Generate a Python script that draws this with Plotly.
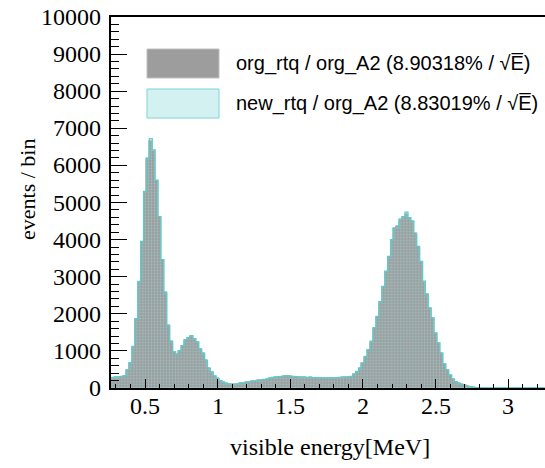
import plotly.graph_objects as go

# ---- data (bin width 0.02 MeV, first bin edge 0.25 MeV) ----
bin_start = 0.25
bin_width = 0.02

org_rtq = [
    280, 280, 290, 300, 310, 330, 485, 670, 1110, 1860,
    2860, 3940, 5280, 6170, 6660, 6400, 5590, 4610, 3450, 2600,
    1700, 1260, 980, 910, 1000, 1130, 1290, 1340, 1400, 1320,
    1250, 1040, 935, 755, 530, 440, 320, 260, 200, 150,
    125, 105, 95, 100, 110, 125, 140, 155, 170, 185,
    195, 205, 215, 225, 240, 260, 280, 295, 300, 310,
    320, 325, 315, 310, 300, 295, 290, 285, 280, 285,
    280, 275, 280, 275, 270, 275, 280, 270, 275, 280,
    285, 290, 300, 305, 375, 440, 530, 665, 845, 1025,
    1250, 1610, 1920, 2325, 2730, 3135, 3540, 3990, 4300, 4360,
    4530, 4600, 4690, 4570, 4510, 4180, 3810, 3400, 2865, 2525,
    2150, 1880, 1475, 1205, 935, 645, 485, 350, 240, 170,
    125, 100, 73, 50, 30, 15, 8, 4, 2, 1,
    0, 0, 0, 0, 0, 0, 0, 0, 0, 0,
    0, 0, 0, 0, 0, 0, 0, 0, 0, 0,
]

new_rtq = [
    280, 285, 290, 300, 315, 335, 490, 680, 1120, 1870,
    2870, 3950, 5300, 6200, 6720, 6420, 5600, 4620, 3460, 2560,
    1680, 1240, 975, 905, 1010, 1140, 1300, 1360, 1410, 1330,
    1240, 1050, 930, 750, 535, 435, 325, 255, 200, 150,
    120, 105, 95, 100, 110, 130, 140, 160, 170, 185,
    200, 205, 220, 230, 240, 265, 285, 295, 305, 315,
    325, 330, 320, 310, 305, 295, 290, 290, 285, 285,
    280, 280, 280, 275, 275, 275, 280, 275, 275, 285,
    285, 295, 300, 310, 380, 445, 535, 670, 850, 1035,
    1260, 1620, 1930, 2330, 2740, 3150, 3550, 4000, 4300, 4330,
    4560, 4620, 4740, 4590, 4500, 4140, 3820, 3410, 2880, 2530,
    2160, 1890, 1480, 1215, 940, 650, 490, 355, 245, 170,
    130, 100, 75, 50, 30, 15, 8, 4, 2, 1,
    0, 0, 0, 0, 0, 0, 0, 0, 0, 0,
    0, 0, 0, 0, 0, 0, 0, 0, 0, 0,
]

label_org = "org_rtq / org_A2 (8.90318% / √E\u0305)"
label_new = "new_rtq / org_A2 (8.83019% / √E\u0305)"

x_ticks = [0.5, 1, 1.5, 2, 2.5, 3]
x_tick_labels = ["0.5", "1", "1.5", "2", "2.5", "3"]
y_ticks = list(range(0, 10001, 1000))
y_tick_labels = [str(v) for v in y_ticks]
x_range = [0.266, 3.253]
y_range = [0, 10000]

# ---- derived bin geometry ----
n = len(org_rtq)
centers = [bin_start + bin_width * (i + 0.5) for i in range(n)]
edges = [bin_start + bin_width * i for i in range(n + 1)]

W, H = 545, 468
L, R, T, B = 111, 0, 17, 80
pw, ph = W - L - R, H - T - B

SERIF = "Liberation Serif"
SANS = "Liberation Sans"


def px(x):
    return (x - L) / pw


def py(y):
    return (H - B - y) / ph


fig = go.Figure()
fig.add_trace(go.Bar(
    x=centers, y=org_rtq, width=bin_width, name=label_org,
    marker=dict(color="#9d9d9d", line=dict(width=0.6, color="#9d9d9d")),
    showlegend=False,
))
fig.add_trace(go.Bar(
    x=centers, y=new_rtq, width=bin_width, name=label_new,
    marker=dict(color="rgba(0,0,0,0)", line=dict(width=0),
                pattern=dict(shape=".", fgcolor="#8fdcdc", bgcolor="rgba(0,0,0,0)",
                             size=3, solidity=0.35)),
    showlegend=False,
))
fig.add_trace(go.Scatter(
    x=edges, y=new_rtq + [new_rtq[-1]], mode="lines",
    line=dict(shape="hv", color="#5fcaca", width=1.3),
    showlegend=False, hoverinfo="skip",
))
# helper trace so the minor-tick overlay axes are drawn
fig.add_trace(go.Scatter(x=[None], y=[None], xaxis="x2", yaxis="y2",
                         showlegend=False, hoverinfo="skip"))

shapes = [
    dict(type="rect", xref="paper", yref="paper",
         x0=px(147), x1=px(219), y0=py(78), y1=py(49),
         fillcolor="#9d9d9d", line=dict(color="#c0c0c0", width=1)),
    dict(type="rect", xref="paper", yref="paper",
         x0=px(147), x1=px(219), y0=py(118), y1=py(89),
         fillcolor="#d4f1f1", line=dict(color="#7fd4d4", width=1)),
]
annotations = [
    dict(text=label_org, x=px(234), y=py(63), xref="paper", yref="paper",
         xanchor="left", yanchor="middle", showarrow=False,
         font=dict(family=SANS, size=20, color="black")),
    dict(text=label_new, x=px(234), y=py(104), xref="paper", yref="paper",
         xanchor="left", yanchor="middle", showarrow=False,
         font=dict(family=SANS, size=20, color="black")),
    dict(text="events / bin", x=px(27), y=py(190), xref="paper", yref="paper",
         xanchor="center", yanchor="middle", textangle=-90, showarrow=False,
         font=dict(family=SERIF, size=22, color="black")),
    dict(text="visible energy[MeV]", x=px(330), y=py(447), xref="paper", yref="paper",
         xanchor="center", yanchor="middle", showarrow=False,
         font=dict(family=SERIF, size=24, color="black")),
]
# tick labels as text annotations tied to the axes
for v, t in zip(x_ticks, x_tick_labels):
    annotations.append(dict(
        text=t, x=v, y=py(406), xref="x", yref="paper",
        xanchor="center", yanchor="middle", showarrow=False,
        font=dict(family=SERIF, size=24, color="black")))
for v, t in zip(y_ticks, y_tick_labels):
    annotations.append(dict(
        text=t, x=px(103), y=v, xref="paper", yref="y",
        xanchor="right", yanchor="middle", showarrow=False,
        font=dict(family=SERIF, size=24, color="black")))

fig.update_layout(
    width=W, height=H,
    margin=dict(l=L, r=R, t=T, b=B, pad=0),
    paper_bgcolor="white", plot_bgcolor="white",
    barmode="overlay", bargap=0,
    shapes=shapes, annotations=annotations,
    showlegend=False,
    xaxis=dict(
        range=x_range, tickvals=x_ticks, showticklabels=False,
        ticks="inside", ticklen=9, tickcolor="black",
        showgrid=False, zeroline=False, showline=True, linecolor="black", linewidth=1.5,
        mirror=True,
    ),
    yaxis=dict(
        range=y_range, tickvals=y_ticks, showticklabels=False,
        ticks="inside", ticklen=16, tickcolor="black",
        showgrid=False, zeroline=False, showline=True, linecolor="black", linewidth=1.5,
    ),
    xaxis2=dict(
        overlaying="x", anchor="y", side="bottom", range=x_range, dtick=0.1, tick0=0,
        ticks="inside", ticklen=4, tickcolor="black", showticklabels=False,
        showgrid=False, zeroline=False, showline=False,
    ),
    yaxis2=dict(
        overlaying="y", anchor="x", side="left", range=y_range, dtick=200, tick0=0,
        ticks="inside", ticklen=8, tickcolor="black", showticklabels=False,
        showgrid=False, zeroline=False, showline=False,
    ),
)

fig.write_html("out.html")
